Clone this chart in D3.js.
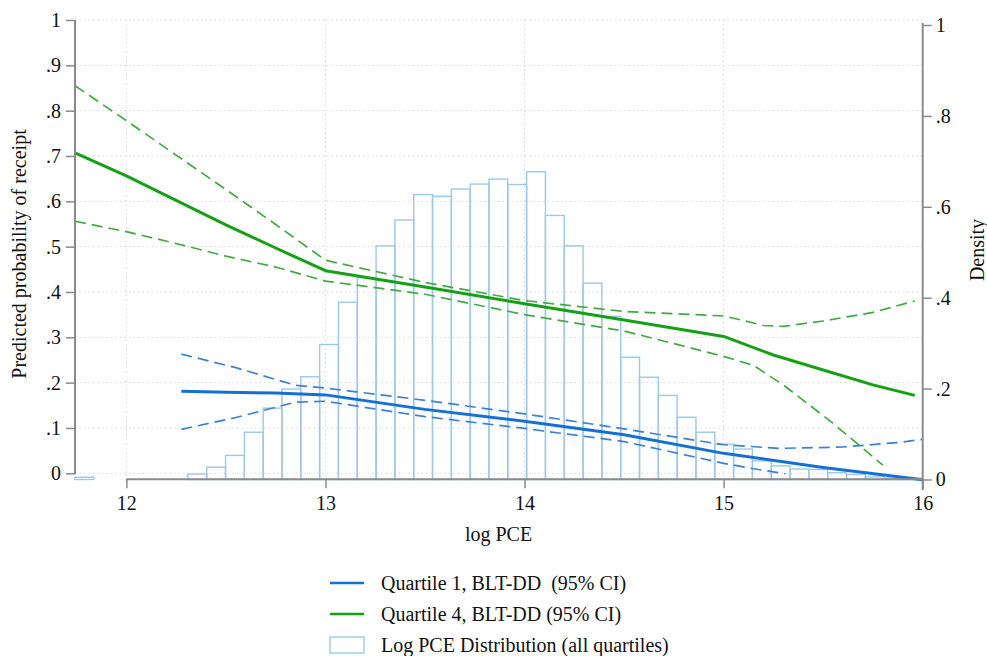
<!DOCTYPE html>
<html><head><meta charset="utf-8">
<script src="https://cdn.jsdelivr.net/npm/d3@7"></script>
<style>
body{margin:0;background:#fff;}
text{font-family:"Liberation Serif","Times New Roman",serif;fill:#111;}
</style></head>
<body><svg id="c" width="987" height="656"></svg>
<script>
// ---- data ----
const histStart = 11.742;
const binWidth = 0.09452;
const density = [0.005,0,0,0,0,0,0.012,0.027,0.053,0.104,0.157,0.199,0.226,0.297,0.390,0.444,0.514,0.571,0.627,0.623,0.639,0.650,0.661,0.649,0.677,0.581,0.514,0.432,0.359,0.269,0.225,0.185,0.137,0.104,0.078,0.067,0.041,0.030,0.023,0.022,0.015,0.011,0.006,0.003,0.002];

const q4X     = [11.742,12,12.25,12.5,12.75,13,13.5,14,14.5,15,15.25,15.5,15.75,15.96];
const q4Fit   = [0.707,0.656,0.602,0.548,0.497,0.447,0.411,0.374,0.338,0.302,0.261,0.228,0.195,0.172];
const q4UpX   = [11.742,12,12.25,12.5,12.75,13,13.5,14,14.5,15,15.1,15.2,15.3,15.5,15.75,15.96];
const q4Up    = [0.855,0.778,0.702,0.626,0.549,0.470,0.421,0.381,0.357,0.347,0.337,0.326,0.324,0.336,0.355,0.380];
const q4LoX   = [11.742,12,12.25,12.5,12.75,13,13.5,14,14.5,15,15.15,15.3,15.55,15.8];
const q4Lo    = [0.556,0.533,0.507,0.479,0.455,0.424,0.395,0.350,0.314,0.258,0.238,0.195,0.110,0.018];

const q1X     = [12.276,12.5,12.75,13,13.5,14,14.5,15,15.5,16];
const q1Fit   = [0.181,0.179,0.177,0.173,0.141,0.115,0.085,0.044,0.013,-0.014];
const q1UpX   = [12.276,12.55,12.85,13,13.5,14,14.5,15,15.28,15.6,15.88,16];
const q1Up    = [0.263,0.233,0.194,0.188,0.161,0.131,0.098,0.063,0.055,0.058,0.068,0.075];
const q1LoX   = [12.276,12.55,12.85,13,13.5,14,14.5,15,15.15,15.31];
const q1Lo    = [0.097,0.123,0.157,0.159,0.125,0.099,0.070,0.022,0.010,-0.001];

const xTicks = [12,13,14,15,16];
const yLeftTicks = [0,0.1,0.2,0.3,0.4,0.5,0.6,0.7,0.8,0.9,1];
const yLeftLabels = ["0",".1",".2",".3",".4",".5",".6",".7",".8",".9","1"];
const yRightTicks = [0,0.2,0.4,0.6,0.8,1];
const yRightLabels = ["0",".2",".4",".6",".8","1"];
const legendLabels = ["Quartile 1, BLT-DD  (95% CI)","Quartile 4, BLT-DD (95% CI)","Log PCE Distribution (all quartiles)"];

// ---- drawing ----
const blue = "#1470d6", green = "#15a015";
const blueDash = "#3d80d4", greenDash = "#45a845";
const barStroke = "#9dc9e8";
const axisCol = "#8a8a8a", gridCol = "#d8d8d8";
const svg = d3.select("#c");
const x = d3.scaleLinear().domain([11.742,16]).range([75,922.7]);
const yL = d3.scaleLinear().domain([0,1]).range([473.3,20]);
const yR = d3.scaleLinear().domain([0,1]).range([479.5,25]);

// gridlines
svg.append("g").selectAll("line").data(yLeftTicks).join("line")
  .attr("x1",75).attr("x2",922).attr("y1",d=>yL(d)).attr("y2",d=>yL(d))
  .attr("stroke",gridCol).attr("stroke-dasharray","1.5,3").attr("stroke-width",1);
svg.append("g").selectAll("line").data(xTicks.slice(0,4)).join("line")
  .attr("x1",d=>x(d)).attr("x2",d=>x(d)).attr("y1",20).attr("y2",479)
  .attr("stroke",gridCol).attr("stroke-dasharray","1.5,3").attr("stroke-width",1);

// histogram
svg.append("g").selectAll("rect").data(density.map((d,i)=>({d,i})).filter(o=>o.d>0)).join("rect")
  .attr("x",o=>x(histStart+o.i*binWidth))
  .attr("width",o=>x(histStart+(o.i+1)*binWidth)-x(histStart+o.i*binWidth))
  .attr("y",o=>yR(o.d)).attr("height",o=>yR(0)-yR(o.d))
  .attr("fill","none").attr("stroke",barStroke).attr("stroke-width",1.4);

// lines
function drawLine(xs, ys, color, width, dash){
  const pts = xs.map((v,i)=>[v,ys[i]]);
  svg.append("path").datum(pts)
    .attr("d", d3.line().x(d=>x(d[0])).y(d=>yL(d[1])).curve(d3.curveLinear))
    .attr("fill","none").attr("stroke",color).attr("stroke-width",width)
    .attr("stroke-dasharray",dash||null).attr("stroke-linejoin","round");
}
drawLine(q4UpX,q4Up,greenDash,1.7,"11,6");
drawLine(q4LoX,q4Lo,greenDash,1.7,"11,6");
drawLine(q1UpX,q1Up,blueDash,1.7,"11,6");
drawLine(q1LoX,q1Lo,blueDash,1.7,"11,6");
drawLine(q4X,q4Fit,green,3);
drawLine(q1X,q1Fit,blue,3);

// left axis
const gL = svg.append("g").attr("transform","translate(75,0)")
  .call(d3.axisLeft(yL).tickValues(yLeftTicks).tickFormat((d,i)=>yLeftLabels[i]).tickSize(9).tickPadding(5));
// right axis
const gR = svg.append("g").attr("transform","translate(922.7,0)")
  .call(d3.axisRight(yR).tickValues(yRightTicks).tickFormat((d,i)=>yRightLabels[i]).tickSize(9).tickPadding(4));
// bottom axis
const gB = svg.append("g").attr("transform","translate(0,479.3)")
  .call(d3.axisBottom(x).tickValues(xTicks).tickFormat(d3.format("d")).tickSize(9).tickPadding(8));
[gL,gR,gB].forEach(g=>{
  g.select(".domain").remove();
  g.selectAll(".tick line").attr("stroke",axisCol).attr("stroke-width",1.5);
  g.selectAll("text").attr("font-family","Liberation Serif").attr("font-size",20).attr("fill","#111");
});
svg.append("line").attr("x1",75).attr("x2",75).attr("y1",yL(1)).attr("y2",yL(0)+1)
  .attr("stroke",axisCol).attr("stroke-width",2);
svg.append("line").attr("x1",922.7).attr("x2",922.7).attr("y1",yR(1)-2).attr("y2",490)
  .attr("stroke",axisCol).attr("stroke-width",2);
svg.append("line").attr("x1",x(12)).attr("x2",x(16)).attr("y1",479.3).attr("y2",479.3)
  .attr("stroke",axisCol).attr("stroke-width",2);

// titles
svg.append("text").attr("x",498.5).attr("y",541).attr("text-anchor","middle")
  .attr("font-size",20).text("log PCE");
svg.append("text").attr("transform","translate(26,254) rotate(-90)").attr("text-anchor","middle")
  .attr("font-size",20).text("Predicted probability of receipt");
svg.append("text").attr("transform","translate(984,250) rotate(-90)").attr("text-anchor","middle")
  .attr("font-size",20).text("Density");

// legend
const legY = [583,614,645];
const lg = svg.append("g");
lg.append("line").attr("x1",330).attr("x2",364).attr("y1",legY[0]).attr("y2",legY[0]).attr("stroke",blue).attr("stroke-width",2.5);
lg.append("line").attr("x1",330).attr("x2",364).attr("y1",legY[1]).attr("y2",legY[1]).attr("stroke",green).attr("stroke-width",2.5);
lg.append("rect").attr("x",330).attr("y",legY[2]-8).attr("width",34).attr("height",16).attr("fill","none").attr("stroke",barStroke).attr("stroke-width",1.4);
lg.selectAll("text").data(legendLabels).join("text")
  .attr("x",381).attr("y",(d,i)=>legY[i]+7).attr("font-size",20)
  .style("white-space","pre").text(d=>d);
</script></body></html>
